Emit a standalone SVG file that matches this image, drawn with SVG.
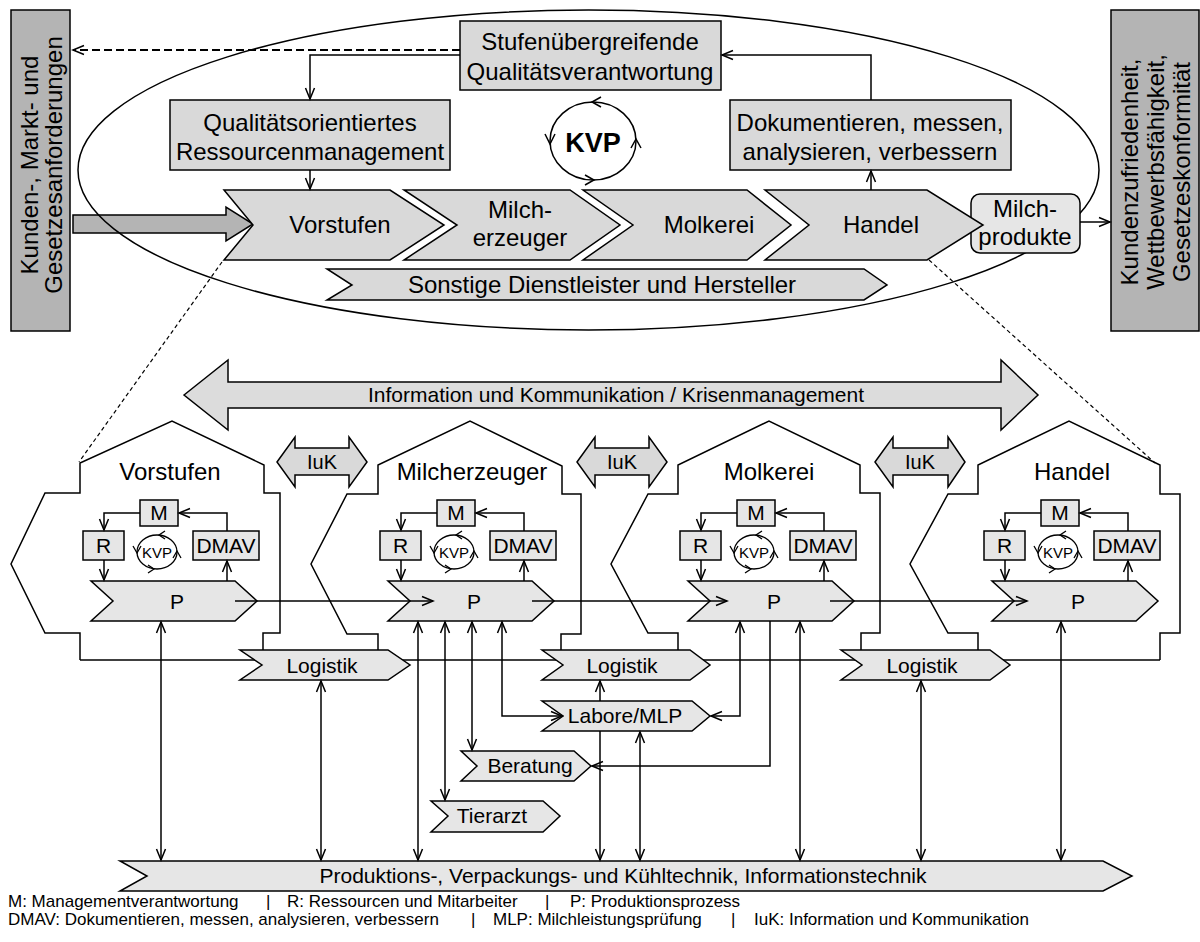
<svg xmlns="http://www.w3.org/2000/svg" width="1200" height="942" viewBox="0 0 1200 942">
<defs>
<style>
.t{font-family:"Liberation Sans",Arial,sans-serif;fill:#000}
.ln{fill:none;stroke:#000;stroke-width:1.5}
.bx{stroke:#000;stroke-width:1.5}
.side{fill:#b4b4b4}
.g1{fill:#d9d9d9}
.g2{fill:#e6e6e6}
.s24{font-size:24px}
.s21{font-size:21px}
.s20{font-size:20px}
.s17{font-size:17px}
.mid{text-anchor:middle}
</style>
<marker id="ah" markerWidth="14" markerHeight="12" refX="11" refY="5" orient="auto-start-reverse" markerUnits="userSpaceOnUse" overflow="visible">
<path d="M0,0.5 L11,5 L0,9.5" fill="none" stroke="#000" stroke-width="1.5"/>
</marker>
<g id="inner">
<polygon class="bx g2" points="91,581 235,581 257,601 235,621 91,621 113,601"/>
<text class="t s21 mid" x="177" y="609">P</text>
<rect class="bx g2" x="140" y="500" width="38" height="26"/>
<text class="t s21 mid" x="159" y="520">M</text>
<rect class="bx g2" x="83" y="531" width="41" height="29"/>
<text class="t s21 mid" x="103.5" y="553">R</text>
<rect class="bx g2" x="193" y="531" width="66" height="29"/>
<text class="t s21 mid" x="226" y="553">DMAV</text>
<ellipse cx="157" cy="552" rx="20" ry="17" fill="none" stroke="#000" stroke-width="1.3"/>
<text class="t mid" style="font-size:15px" x="157" y="558">KVP</text>
<polyline class="ln" style="stroke-width:1.3" points="165,531 159,535 165,539"/>
<polyline class="ln" style="stroke-width:1.3" points="133,546 137,553 141,546"/>
<polyline class="ln" style="stroke-width:1.3" points="148,565 154,569 148,573"/>
<polyline class="ln" style="stroke-width:1.3" points="173,558 177,551 181,558"/>
<path class="ln" marker-end="url(#ah)" d="M140,513 H104 V530"/>
<path class="ln" marker-end="url(#ah)" d="M227,531 V513 H179"/>
<path class="ln" marker-end="url(#ah)" d="M104,560 V580"/>
<path class="ln" marker-end="url(#ah)" d="M227,581 V561"/>
</g>
</defs>
<rect width="1200" height="942" fill="#fff"/>

<g id="input-arrow">
<path class="bx side" d="M73,215 H226 V207 L253,224 L226,241 V233 H73 Z"/>
</g>
<g id="scope-ellipse">
<ellipse cx="588.5" cy="170" rx="510.5" ry="160" fill="none" stroke="#000" stroke-width="1.5"/>
</g>

<g id="requirements">
<rect class="bx side" x="11" y="10" width="59" height="321"/>
<text class="t s24 mid" transform="translate(38,165) rotate(-90)">Kunden-, Markt- und</text>
<text class="t s24 mid" transform="translate(62,165) rotate(-90)">Gesetzesanforderungen</text>
</g>
<g id="results">
<rect class="bx side" x="1111" y="10" width="88" height="321"/>
<text class="t s24 mid" transform="translate(1138,172) rotate(-90)">Kundenzufriedenheit,</text>
<text class="t s24 mid" transform="translate(1164,172) rotate(-90)">Wettbewerbsfähigkeit,</text>
<text class="t s24 mid" transform="translate(1190,172) rotate(-90)">Gesetzeskonformität</text>
</g>

<g id="stufen-box">
<rect class="bx g1" x="460" y="21" width="261" height="69"/>
<text class="t s24 mid" x="590" y="50">Stufenübergreifende</text>
<text class="t s24 mid" x="590" y="80">Qualitätsverantwortung</text>
</g>
<g id="ressourcen-box">
<rect class="bx g1" x="170" y="100" width="280" height="70"/>
<text class="t s24 mid" x="310" y="131">Qualitätsorientiertes</text>
<text class="t s24 mid" x="310" y="160">Ressourcenmanagement</text>
</g>
<g id="dmav-box">
<rect class="bx g1" x="730" y="100" width="281" height="70"/>
<text class="t s24 mid" x="870" y="131">Dokumentieren, messen,</text>
<text class="t s24 mid" x="870" y="160">analysieren, verbessern</text>
</g>
<g id="kvp-top">
<ellipse cx="593" cy="141" rx="43" ry="39" fill="none" stroke="#000" stroke-width="1.5"/>
<text class="t mid" style="font-size:27px;font-weight:bold" x="593" y="152">KVP</text>
<polyline class="ln" points="601,97 592,102 601,107"/>
<polyline class="ln" points="545,134 550,144 555,134"/>
<polyline class="ln" points="585,175 594,180 585,185"/>
<polyline class="ln" points="631,148 636,139 641,148"/>
</g>

<g id="milchprodukte">
<rect class="bx g2" x="971" y="194" width="109" height="59" rx="9"/>
<text class="t s24 mid" x="1025" y="217">Milch-</text>
<text class="t s24 mid" x="1025" y="245">produkte</text>
</g>
<g id="chain-vorstufen">
<polygon class="bx g1" points="224,190 390,190 444,225 390,260 224,260 253,225"/>
<text class="t s24 mid" x="340" y="233">Vorstufen</text>
</g>
<g id="chain-milcherzeuger">
<polygon class="bx g1" points="404,190 570,190 620,225 570,260 404,260 457,225"/>
<text class="t s24 mid" x="520" y="218">Milch-</text>
<text class="t s24 mid" x="520" y="246">erzeuger</text>
</g>
<g id="chain-molkerei">
<polygon class="bx g1" points="583,190 747,190 791,225 747,260 583,260 633,225"/>
<text class="t s24 mid" x="709" y="233">Molkerei</text>
</g>
<g id="chain-handel">
<polygon class="bx g1" points="765,190 927,190 983,225 927,260 765,260 809,225"/>
<text class="t s24 mid" x="881" y="233">Handel</text>
</g>
<g id="sonstige">
<polygon class="bx g1" points="327,269 864,269 887,285 864,300 327,300 352,285"/>
<text class="t s24 mid" x="602" y="293">Sonstige Dienstleister und Hersteller</text>
</g>

<g id="iuk-krisen">
<polygon class="bx" fill="#dcdcdc" points="184,395 228,360 228,382 1001,382 1001,360 1038,395 1001,430 1001,408 228,408 228,430"/>
<text class="t s21 mid" x="616" y="402">Information und Kommunikation / Krisenmanagement</text>
</g>
<g id="iuk-1">
<polygon class="bx g1" points="277,462 295,437 295,448 349,448 349,437 367,462 349,487 349,475 295,475 295,487"/>
<text class="t s20 mid" x="322" y="469">IuK</text>
</g>
<g id="iuk-2">
<polygon class="bx g1" points="577,462 595,437 595,448 649,448 649,437 667,462 649,487 649,475 595,475 595,487"/>
<text class="t s20 mid" x="622" y="469">IuK</text>
</g>
<g id="iuk-3">
<polygon class="bx g1" points="875,462 893,437 893,448 948,448 948,437 965,462 948,487 948,475 893,475 893,487"/>
<text class="t s20 mid" x="920" y="469">IuK</text>
</g>

<g id="house-base">
<path class="ln" d="M80,660 H1160"/>
</g>
<g id="house-vorstufen">
<path class="ln" d="M80,660 V633 H45 L11,564 L45,493 H80 V463 L172,421 L264,465 V493 H280 V633 H263 V650"/>
<text class="t s24 mid" x="170" y="480">Vorstufen</text>
<use href="#inner"/>
</g>
<g id="house-milcherzeuger">
<path class="ln" d="M378,650 V634 H347 L311,564 L347,494 H378 V465 L470,421 L562,466 V494 H581 V634 H561 V650"/>
<text class="t s24 mid" x="472" y="480">Milcherzeuger</text>
<use href="#inner" transform="translate(297,0)"/>
</g>
<g id="house-molkerei">
<path class="ln" d="M678,650 V633 H648 L611,564 L648,494 H678 V465 L769,421 L860,465 V493 H880 V633 H861 V650"/>
<text class="t s24 mid" x="769" y="480">Molkerei</text>
<use href="#inner" transform="translate(597,0)"/>
</g>
<g id="house-handel">
<path class="ln" d="M978,650 V633 H948 L910,564 L948,494 H978 V465 L1069,421 L1160,465 V494 H1180 V633 H1160 V660"/>
<text class="t s24 mid" x="1072" y="480">Handel</text>
<use href="#inner" transform="translate(901,0)"/>
</g>

<g id="logistik-1">
<polygon class="bx g2" points="240,650 388,650 410,665 388,680 240,680 262,665"/>
<text class="t s21 mid" x="322" y="673">Logistik</text>
</g>
<g id="logistik-2">
<polygon class="bx g2" points="542,650 690,650 710,665 690,680 542,680 563,665"/>
<text class="t s21 mid" x="622" y="673">Logistik</text>
</g>
<g id="logistik-3">
<polygon class="bx g2" points="841,650 990,650 1010,665 990,680 841,680 862,665"/>
<text class="t s21 mid" x="922" y="673">Logistik</text>
</g>
<g id="labore">
<polygon class="bx g2" points="542,701 692,701 710,716 692,731 542,731 563,716"/>
<text class="t s21 mid" x="625" y="723">Labore/MLP</text>
</g>
<g id="beratung">
<polygon class="bx g2" points="461,751 574,751 591,766 574,781 461,781 477,766"/>
<text class="t s21 mid" x="530" y="773">Beratung</text>
</g>
<g id="tierarzt">
<polygon class="bx g2" points="431,801 543,801 560,816 543,832 431,832 448,816"/>
<text class="t s21 mid" x="492" y="823">Tierarzt</text>
</g>
<g id="technik">
<polygon class="bx g2" points="120,861 1103,861 1132,876 1103,891 120,891 147,876"/>
<text class="t s21 mid" x="623" y="883">Produktions-, Verpackungs- und Kühltechnik, Informationstechnik</text>
</g>

<g id="connectors">
<path class="ln" style="stroke-width:2;stroke-dasharray:8 4" marker-end="url(#ah)" d="M460,50 H73"/>
<path class="ln" marker-end="url(#ah)" d="M460,55 H310 V99"/>
<path class="ln" marker-end="url(#ah)" d="M310,170 V189"/>
<path class="ln" marker-end="url(#ah)" d="M871,190 V171"/>
<path class="ln" marker-end="url(#ah)" d="M871,100 V55 H722"/>
<path class="ln" marker-end="url(#ah)" d="M1080,222 H1110"/>
<path class="ln" style="stroke-width:1.2;stroke-dasharray:4 3" d="M222,262 L79,462"/>
<path class="ln" style="stroke-width:1.2;stroke-dasharray:4 3" d="M929,260 L1155,463"/>
<path class="ln" marker-end="url(#ah)" d="M235,601 H433"/>
<path class="ln" marker-end="url(#ah)" d="M532,601 H727"/>
<path class="ln" marker-end="url(#ah)" d="M830,601 H1027"/>
<path class="ln" marker-start="url(#ah)" marker-end="url(#ah)" d="M161,622 V860"/>
<path class="ln" marker-start="url(#ah)" marker-end="url(#ah)" d="M321,681 V860"/>
<path class="ln" marker-start="url(#ah)" marker-end="url(#ah)" d="M418,622 V860"/>
<path class="ln" marker-start="url(#ah)" marker-end="url(#ah)" d="M445,622 V800"/>
<path class="ln" marker-start="url(#ah)" marker-end="url(#ah)" d="M472,622 V750"/>
<path class="ln" marker-start="url(#ah)" marker-end="url(#ah)" d="M502,622 V716 H562"/>
<path class="ln" marker-end="url(#ah)" d="M600,701 V681"/>
<path class="ln" marker-end="url(#ah)" d="M600,731 V860"/>
<path class="ln" marker-start="url(#ah)" marker-end="url(#ah)" d="M640,860 V732"/>
<path class="ln" marker-start="url(#ah)" marker-end="url(#ah)" d="M740,622 V716 H711"/>
<path class="ln" marker-end="url(#ah)" d="M770,621 V766 H592"/>
<path class="ln" marker-start="url(#ah)" marker-end="url(#ah)" d="M800,622 V860"/>
<path class="ln" marker-start="url(#ah)" marker-end="url(#ah)" d="M921,681 V860"/>
<path class="ln" marker-start="url(#ah)" marker-end="url(#ah)" d="M1061,622 V860"/>
</g>

<g id="legend">
<text class="t s17" x="8" y="907">M: Managementverantwortung</text>
<text class="t s17" x="266" y="907">|</text>
<text class="t s17" x="287" y="907">R: Ressourcen und Mitarbeiter</text>
<text class="t s17" x="545" y="907">|</text>
<text class="t s17" x="570" y="907">P: Produktionsprozess</text>
<text class="t s17" x="8" y="925">DMAV: Dokumentieren, messen, analysieren, verbessern</text>
<text class="t s17" x="471" y="925">|</text>
<text class="t s17" x="493" y="925">MLP: Milchleistungsprüfung</text>
<text class="t s17" x="731" y="925">|</text>
<text class="t s17" x="754" y="925">IuK: Information und Kommunikation</text>
</g>
</svg>
